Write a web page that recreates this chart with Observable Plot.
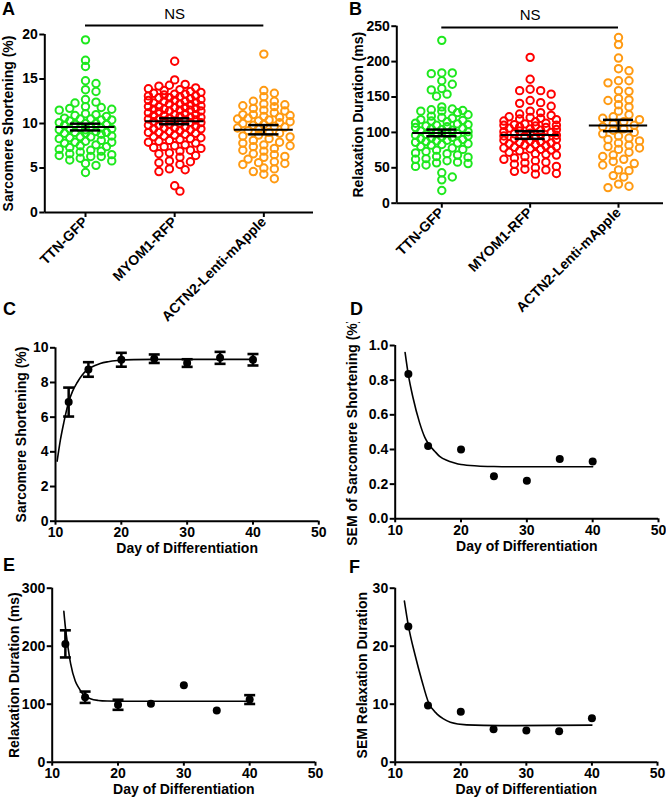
<!DOCTYPE html>
<html><head><meta charset="utf-8">
<script src="https://cdn.jsdelivr.net/npm/d3@7"></script>
<script src="https://cdn.jsdelivr.net/npm/@observablehq/plot@0.6"></script>
<style>
body{margin:0;background:#fff;}
#fig{position:relative;width:666px;height:804px;overflow:hidden;background:#fff;}
</style></head><body><div id="fig"></div>
<script>
// ---------- categories ----------
const groups = ["TTN-GFP", "MYOM1-RFP", "ACTN2-Lenti-mApple"];
const groupColors = ["#1ee81e", "#ff0000", "#ff9a12"];

// ---------- panel A: sarcomere shortening (%) ----------
const shorteningTTN = [19.4, 17.1, 16.4, 14.8, 14.5, 13.8, 13.6, 12.7, 12.4, 12.3, 11.9, 11.8, 11.7, 11.6, 11.5, 11.1, 11.0, 10.9, 10.8, 10.6, 10.5, 10.5, 10.4, 10.4, 10.3, 10.1, 10.0, 10.0, 9.9, 9.9, 9.8, 9.6, 9.5, 9.5, 9.4, 9.4, 9.3, 9.3, 9.1, 9.0, 9.0, 8.9, 8.9, 8.8, 8.6, 8.5, 8.5, 8.4, 8.3, 8.1, 8.0, 7.9, 7.9, 7.8, 7.6, 7.5, 7.4, 7.3, 7.1, 7.0, 6.9, 6.8, 6.6, 6.5, 6.4, 6.3, 6.3, 6.1, 5.9, 5.8, 5.5, 5.3, 4.5];
const shorteningMYOM1 = [17.0, 14.9, 14.4, 14.3, 14.2, 14.0, 13.9, 13.8, 13.7, 13.6, 13.5, 13.4, 13.3, 13.3, 13.2, 13.1, 13.1, 13.0, 12.9, 12.9, 12.8, 12.7, 12.6, 12.6, 12.5, 12.5, 12.4, 12.3, 12.2, 12.2, 12.1, 12.0, 11.9, 11.9, 11.8, 11.8, 11.7, 11.6, 11.6, 11.5, 11.5, 11.4, 11.4, 11.3, 11.2, 11.1, 11.0, 11.0, 10.9, 10.9, 10.8, 10.7, 10.7, 10.6, 10.5, 10.5, 10.4, 10.4, 10.3, 10.3, 10.2, 10.1, 10.1, 10.0, 9.9, 9.8, 9.8, 9.7, 9.6, 9.5, 9.5, 9.4, 9.4, 9.3, 9.2, 9.1, 9.0, 9.0, 8.9, 8.8, 8.7, 8.6, 8.5, 8.4, 8.3, 8.2, 8.1, 8.0, 7.9, 7.8, 7.6, 7.5, 7.4, 7.3, 7.2, 7.0, 6.9, 6.7, 6.6, 6.4, 6.2, 5.8, 5.7, 5.6, 5.4, 4.9, 4.8, 4.6, 3.0, 2.4];
const shorteningACTN2 = [17.8, 13.7, 13.4, 13.0, 12.5, 12.5, 12.2, 12.1, 12.0, 11.9, 11.7, 11.5, 11.4, 11.2, 11.0, 11.0, 10.9, 10.8, 10.7, 10.6, 10.5, 10.4, 10.3, 10.2, 10.1, 10.0, 9.9, 9.8, 9.7, 9.6, 9.5, 9.4, 9.2, 9.0, 8.9, 8.7, 8.6, 8.5, 8.3, 8.1, 7.9, 7.8, 7.6, 7.5, 7.4, 7.2, 7.0, 6.9, 6.6, 6.5, 6.3, 6.2, 6.0, 5.7, 5.6, 5.5, 5.4, 5.0, 4.9, 4.6, 4.3, 3.8];
const shorteningMean = [9.6, 10.25, 9.3];
const shorteningSEM = [0.38, 0.33, 0.52];

// ---------- panel B: relaxation duration (ms) ----------
const relaxTTN = [230, 184, 184, 183, 173, 168, 162, 160, 154, 151, 136, 133, 132, 131, 130, 130, 128, 125, 123, 121, 120, 118, 117, 116, 115, 113, 112, 111, 110, 109, 108, 107, 106, 105, 104, 103, 102, 101, 100, 99, 98, 97, 96, 95, 94, 93, 92, 91, 90, 89, 88, 87, 86, 85, 84, 83, 82, 80, 78, 76, 75, 73, 71, 70, 68, 66, 65, 63, 62, 60, 58, 57, 56, 54, 52, 43, 37, 33, 18];
const relaxMYOM1 = [206, 175, 161, 159, 159, 154, 145, 142, 141, 137, 130, 128, 126, 124, 122, 121, 120, 119, 118, 116, 115, 113, 112, 111, 110, 110, 109, 108, 107, 106, 105, 104, 103, 102, 101, 100, 99, 98, 97, 96, 95, 94, 93, 92, 91, 90, 89, 88, 87, 86, 85, 84, 83, 82, 81, 80, 79, 78, 77, 76, 75, 74, 72, 70, 69, 68, 66, 64, 62, 60, 58, 57, 55, 52, 50, 48, 47, 45, 42, 41];
const relaxACTN2 = [234, 224, 205, 190, 187, 173, 173, 170, 159, 158, 148, 146, 145, 139, 136, 130, 125, 122, 120, 118, 115, 112, 110, 108, 105, 103, 100, 98, 95, 92, 90, 88, 85, 82, 80, 78, 76, 72, 68, 66, 62, 59, 56, 54, 47, 46, 39, 37, 27, 24, 22];
const relaxMean = [99.3, 96.3, 109.7];
const relaxSEM = [4.7, 5.4, 8.0];

// ---------- panels C-F: time course ----------
const days = [12, 15, 20, 25, 30, 35, 40];
const shortByDay = [6.87, 8.75, 9.31, 9.37, 9.12, 9.42, 9.31];
const shortSEMByDay = [0.835, 0.42, 0.40, 0.245, 0.22, 0.345, 0.33];
const relaxByDay = [204, 112, 99, 100.6, 132.8, 89, 108];
const relaxSEMByDay = [23.4, 9.77, 8.68, 5.69, 5.46, 5.34, 7.59];

// fitted curves
const fitShortDay = [10.25, 10.75, 11.27, 12, 12.6, 13.3, 14, 14.9, 16, 16.8, 18, 19.4, 21.9, 25, 30, 40];
const fitShortVal = [3.46, 4.7, 5.7, 6.87, 7.5, 8.0, 8.4, 8.75, 8.98, 9.1, 9.2, 9.27, 9.32, 9.33, 9.33, 9.33];
const fitShortSEMDay = [11.5, 12, 12.7, 13.7, 14.5, 15.1, 16, 16.75, 18, 18.8, 20, 22.5, 25, 30, 40];
const fitShortSEMVal = [0.96, 0.83, 0.70, 0.555, 0.47, 0.43, 0.39, 0.36, 0.335, 0.325, 0.313, 0.305, 0.302, 0.30, 0.30];
const fitRelaxDay = [11.77, 12, 12.28, 12.8, 13.5, 14, 14.56, 15.2, 15.8, 17, 18.35, 22.4, 40];
const fitRelaxVal = [260, 233, 208, 170, 140, 129, 119, 113, 109.5, 106.5, 105.5, 105, 105];
const fitRelaxSEMDay = [11.4, 12, 13.05, 14.06, 15.08, 16.35, 17.3, 18.4, 20.9, 26, 40];
const fitRelaxSEMVal = [27.8, 23.6, 18.4, 14.1, 10.3, 8.33, 7.5, 6.9, 6.44, 6.3, 6.4];

// ---------- helpers ----------
const fig = document.getElementById("fig");
const FONT = '"Liberation Sans", Arial, Helvetica, sans-serif';
const baseStyle = {fontFamily: FONT, fontSize: "14px", fontWeight: "bold", background: "transparent", overflow: "visible", color: "black"};
function place(svg, left, top) {
  svg.style.position = "absolute";
  svg.style.left = left + "px";
  svg.style.top = top + "px";
  fig.appendChild(svg);
}
const capSymbol = {draw(ctx, size) { const r = Math.sqrt(size / Math.PI); ctx.moveTo(-r, 0); ctx.lineTo(r, 0); }};

// column-scatter layout (GraphPad style): each point takes the first free half-width slot,
// center-out, within a capped width; when the column is full it takes the least-crowded slot.
function scatterLayout(values, gi, pxPerY, pxPerX) {
  const w = 10.5, h = 6, maxK = 5, placed = [];
  const slots = [0];
  for (let k = 1; k <= maxK; k++) slots.push(k * w / 2, -k * w / 2);
  return values.slice().sort(d3.descending).map(v => {
    const py = v * pxPerY;
    const near = placed.filter(p => Math.abs(p.py - py) < h);
    let best = 0, bestScore = -1;
    for (const c of slots) {
      const score = near.length ? d3.min(near, p => Math.hypot((p.px - c) / w, (p.py - py) / h)) : Infinity;
      if (score >= 1) { best = c; break; }
      if (score > bestScore) { best = c; bestScore = score; }
    }
    placed.push({px: best, py});
    return {group: groups[gi], x: gi + best / pxPerX, y: v};
  });
}

function columnPanel(o) {
  const {left, top, width, height, fx0, fy0, fx1, fy1, yDomain, yTicks, series, means, sems, yLabel, yLabelDx, nsY, nsTextY} = o;
  const pxPerX = o.pxPerX;
  const pxPerY = (fy1 - fy0) / (yDomain[1] - yDomain[0]);
  const xDomain = [-(o.cat0 - fx0) / pxPerX, -(o.cat0 - fx1) / pxPerX];
  const pts = series.flatMap((vals, gi) => scatterLayout(vals, gi, pxPerY, pxPerX));
  const stats = means.map((m, i) => ({i, m, lo: m - sems[i], hi: m + sems[i]}));
  const meanHalf = 0.33, capHalf = 0.17;
  const svg = Plot.plot({
    width, height,
    marginLeft: fx0 - left, marginTop: fy0 - top, marginRight: left + width - fx1, marginBottom: top + height - fy1,
    x: {domain: xDomain},
    y: {domain: yDomain},
    color: {domain: groups, range: groupColors},
    style: baseStyle,
    marks: [
      Plot.dot(pts, {x: "x", y: "y", stroke: "group", r: 3.7, strokeWidth: 2, fill: "none"}),
      Plot.ruleY(stats, {y: "m", x1: d => d.i - meanHalf, x2: d => d.i + meanHalf, strokeWidth: 2}),
      Plot.ruleX(stats, {x: "i", y1: "lo", y2: "hi", strokeWidth: 2.2}),
      Plot.ruleY(stats, {y: "lo", x1: d => d.i - capHalf, x2: d => d.i + capHalf, strokeWidth: 2.5}),
      Plot.ruleY(stats, {y: "hi", x1: d => d.i - capHalf, x2: d => d.i + capHalf, strokeWidth: 2.5}),
      Plot.ruleY([yDomain[0]], {strokeWidth: 2}),
      Plot.ruleX([xDomain[0]], {strokeWidth: 2}),
      Plot.axisY({ticks: yTicks, tickSize: 5, tickPadding: 2, strokeWidth: 2, label: null}),
      Plot.axisX({ticks: [0, 1, 2], tickFormat: i => groups[i], tickRotate: -45, tickSize: 5, tickPadding: 2, strokeWidth: 2, label: null}),
      Plot.text([yLabel], {text: d => d, frameAnchor: "left", textAnchor: "middle", rotate: -90, dx: yLabelDx}),
      Plot.ruleY([{y: nsY, x1: 0, x2: 2}], {y: "y", x1: "x1", x2: "x2", strokeWidth: 2}),
      Plot.text([{x: 1, y: nsTextY, t: "NS"}], {x: "x", y: "y", text: "t", fontWeight: "normal", fontSize: 15})
    ]
  });
  place(svg, left, top);
}

function xyPanel(o) {
  const {left, top, width, height, fx0, fy0, fx1, fy1, yDomain, yTicks, yFormat, yLabel, yLabelDx} = o;
  const pts = o.days.map((d, i) => ({day: d, val: o.vals[i], err: o.errs ? o.errs[i] : null}));
  const pxPerY = (fy1 - fy0) / (yDomain[1] - yDomain[0]);
  const bars = pts.filter(p => p.err != null && p.err * pxPerY > 3.5).map(p => ({day: p.day, lo: p.val - p.err, hi: p.val + p.err}));
  const fit = o.fitX.map((x, i) => ({x, y: o.fitY[i]}));
  const svg = Plot.plot({
    width, height,
    marginLeft: fx0 - left, marginTop: fy0 - top, marginRight: left + width - fx1, marginBottom: top + height - fy1,
    x: {domain: [10, 50]},
    y: {domain: yDomain},
    style: {...baseStyle, overflow: o.overflow || "visible"},
    marks: [
      Plot.line(fit, {x: "x", y: "y", curve: "monotone-x", strokeWidth: 1.6}),
      Plot.ruleX(bars, {x: "day", y1: "lo", y2: "hi", strokeWidth: 2.5}),
      Plot.dot(bars, {x: "day", y: "lo", symbol: capSymbol, r: 5.5, stroke: "black", fill: "none", strokeWidth: 2.6}),
      Plot.dot(bars, {x: "day", y: "hi", symbol: capSymbol, r: 5.5, stroke: "black", fill: "none", strokeWidth: 2.6}),
      Plot.dot(pts, {x: "day", y: "val", r: 4, fill: "black", stroke: "none"}),
      Plot.ruleY([yDomain[0]], {strokeWidth: 2}),
      Plot.ruleX([10], {strokeWidth: 2}),
      Plot.axisY({ticks: yTicks, tickFormat: yFormat, tickSize: 5, tickPadding: 2, strokeWidth: 2, label: null}),
      Plot.axisX({ticks: [10, 20, 30, 40, 50], tickSize: 4, tickPadding: 2, strokeWidth: 2, label: null}),
      Plot.text([yLabel], {text: d => d, frameAnchor: "left", textAnchor: "middle", rotate: -90, dx: yLabelDx}),
      Plot.text(["Day of Differentiation"], {text: d => d, frameAnchor: "bottom", textAnchor: "middle", dy: 32})
    ]
  });
  place(svg, left, top);
}

// ---------- panels ----------
columnPanel({
  left: 0, top: 0, width: 333, height: 230, fx0: 44.3, fy0: 34, fx1: 313, fy1: 212,
  cat0: 85, pxPerX: 89.17,
  yDomain: [0, 20], yTicks: [0, 5, 10, 15, 20],
  series: [shorteningTTN, shorteningMYOM1, shorteningACTN2], means: shorteningMean, sems: shorteningSEM,
  yLabel: "Sarcomere Shortening (%)", yLabelDx: -36, nsY: 21, nsTextY: 22.3
});
columnPanel({
  left: 333, top: 0, width: 333, height: 220, fx0: 396.3, fy0: 25.7, fx1: 663, fy1: 202.7,
  cat0: 441.3, pxPerX: 88.35,
  yDomain: [0, 250], yTicks: [0, 50, 100, 150, 200, 250],
  series: [relaxTTN, relaxMYOM1, relaxACTN2], means: relaxMean, sems: relaxSEM,
  yLabel: "Relaxation Duration (ms)", yLabelDx: -38, nsY: 248, nsTextY: 265
});
xyPanel({
  left: 0, top: 325, width: 333, height: 240, fx0: 55, fy0: 347.3, fx1: 318.3, fy1: 520.7,
  yDomain: [0, 10], yTicks: [0, 2, 4, 6, 8, 10], yFormat: d3.format("d"),
  yLabel: "Sarcomere Shortening (%)", yLabelDx: -33.5,
  days, vals: shortByDay, errs: shortSEMByDay, fitX: fitShortDay, fitY: fitShortVal
});
xyPanel({
  left: 333, top: 322, width: 333, height: 243, fx0: 394.7, fy0: 345, fx1: 658, fy1: 518.3,
  yDomain: [0, 1], yTicks: [0, 0.2, 0.4, 0.6, 0.8, 1.0], yFormat: d3.format(".1f"),
  yLabel: "SEM of Sarcomere Shortening (%)", yLabelDx: -43, overflow: "hidden",
  days, vals: shortSEMByDay, errs: null, fitX: fitShortSEMDay, fitY: fitShortSEMVal
});
xyPanel({
  left: 0, top: 575, width: 333, height: 229, fx0: 51.7, fy0: 587.7, fx1: 315, fy1: 761.7,
  yDomain: [0, 300], yTicks: [0, 100, 200, 300], yFormat: d3.format("d"),
  yLabel: "Relaxation Duration (ms)", yLabelDx: -38,
  days, vals: relaxByDay, errs: relaxSEMByDay, fitX: fitRelaxDay, fitY: fitRelaxVal
});
xyPanel({
  left: 333, top: 575, width: 333, height: 229, fx0: 394.7, fy0: 587.7, fx1: 657, fy1: 761.7,
  yDomain: [0, 30], yTicks: [0, 10, 20, 30], yFormat: d3.format("d"),
  yLabel: "SEM Relaxation Duration", yLabelDx: -33,
  days, vals: relaxSEMByDay, errs: null, fitX: fitRelaxSEMDay, fitY: fitRelaxSEMVal
});

// ---------- panel letters ----------
const panelLetters = ["A", "B", "C", "D", "E", "F"];
const letterPos = [[2, 15], [349, 15], [3, 315], [350, 315], [3, 571], [349, 573]];
const overlay = d3.create("svg").attr("width", 666).attr("height", 804)
  .style("position", "absolute").style("left", "0px").style("top", "0px").style("pointer-events", "none");
overlay.selectAll("text").data(panelLetters).join("text")
  .attr("x", (d, i) => letterPos[i][0]).attr("y", (d, i) => letterPos[i][1])
  .attr("font-family", FONT).attr("font-weight", "bold").attr("font-size", 18).text(d => d);
fig.appendChild(overlay.node());
</script></body></html>
